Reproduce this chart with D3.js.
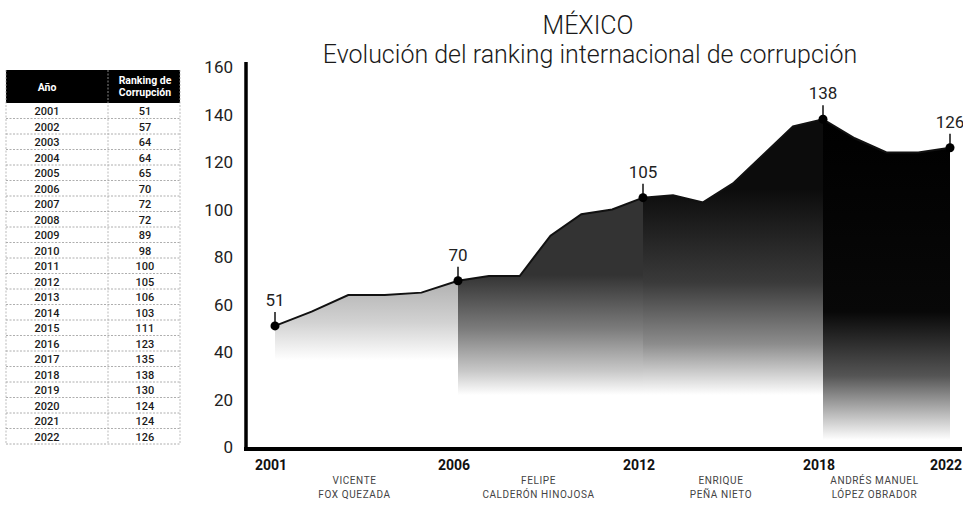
<!DOCTYPE html>
<html>
<head>
<meta charset="utf-8">
<script src="https://cdn.jsdelivr.net/npm/d3@7"></script>
<style>
  body { margin: 0; background: #fff; }
  svg { display: block; font-family: Roboto, "Noto Sans", sans-serif; }
</style>
</head>
<body>
<svg id="chart"></svg>
<script>
// data from the table
const years = [2001, 2002, 2003, 2004, 2005, 2006, 2007, 2008, 2009, 2010, 2011,
  2012, 2013, 2014, 2015, 2016, 2017, 2018, 2019, 2020, 2021, 2022];
const ranking = [51, 57, 64, 64, 65, 70, 72, 72, 89, 98, 100,
  105, 106, 103, 111, 123, 135, 138, 130, 124, 124, 126];
const tickYears = [2001, 2006, 2012, 2018, 2022];
const yTicks = [0, 20, 40, 60, 80, 100, 120, 140, 160];
const presidents = [
  ["VICENTE", "FOX QUEZADA"],
  ["FELIPE", "CALDERÓN HINOJOSA"],
  ["ENRIQUE", "PEÑA NIETO"],
  ["ANDRÉS MANUEL", "LÓPEZ OBRADOR"]
];
const terms = [[2001, 2006], [2006, 2012], [2012, 2018], [2018, 2022]];

const width = 963, height = 508;
const svg = d3.select("#chart").attr("width", width).attr("height", height);

const data = years.map((y, i) => ({ year: y, value: ranking[i] }));

// x is not even in the original, so map each term boundary
const x = d3.scaleLinear().domain(tickYears).range([275, 458, 643, 823, 950]);
const y = d3.scaleLinear().domain([0, 160]).range([447, 67]);

// titles
svg.append("text").attr("x", 588).attr("y", 34).attr("text-anchor", "middle")
  .attr("font-size", 25).attr("font-weight", 300).attr("fill", "#1a1a1a").text("MÉXICO");
svg.append("text").attr("x", 590).attr("y", 63).attr("text-anchor", "middle")
  .attr("font-size", 25).attr("font-weight", 300).attr("fill", "#1a1a1a")
  .text("Evolución del ranking internacional de corrupción");

// gradients, one per term (opaque, fading to white)
const defs = svg.append("defs");
const shades = [
  { top: 285, bot: 360, stops: [[0, "#b4b4b4"], [0.5, "#d2d2d2"], [1, "#fff"]] },
  { top: 275, bot: 395, stops: [[0, "#333"], [0.45, "#7c7c7c"], [0.8, "#c8c8c8"], [1, "#fff"]] },
  { top: 190, bot: 395, stops: [[0, "#0c0c0c"], [0.45, "#3a3a3a"], [0.75, "#8c8c8c"], [1, "#fff"]] },
  { top: 120, bot: 440, stops: [[0, "#000"], [0.6, "#080808"], [0.8, "#555"], [1, "#fff"]] }
];
shades.forEach((s, i) => {
  const g = defs.append("linearGradient").attr("id", "grad" + i)
    .attr("gradientUnits", "userSpaceOnUse")
    .attr("x1", 0).attr("x2", 0).attr("y1", s.top).attr("y2", s.bot);
  s.stops.forEach(st => g.append("stop").attr("offset", st[0]).attr("stop-color", st[1]));
  defs.append("clipPath").attr("id", "clip" + i)
    .append("rect")
    .attr("x", x(terms[i][0])).attr("y", 0)
    .attr("width", x(terms[i][1]) - x(terms[i][0]) + 1)
    .attr("height", height);
});

const area = d3.area().x(d => x(d.year)).y0(y(0)).y1(d => y(d.value));
terms.forEach((t, i) => {
  svg.append("path").datum(data)
    .attr("clip-path", `url(#clip${i})`)
    .attr("fill", `url(#grad${i})`)
    .attr("d", area);
});

// line
svg.append("path").datum(data)
  .attr("fill", "none").attr("stroke", "#111").attr("stroke-width", 2)
  .attr("d", d3.line().x(d => x(d.year)).y(d => y(d.value)));

// highlighted points
const hl = data.filter(d => tickYears.includes(d.year));
const pts = svg.append("g").selectAll("g").data(hl).join("g")
  .attr("transform", d => `translate(${x(d.year)},${y(d.value)})`);
pts.append("line").attr("y1", 0).attr("y2", -14).attr("stroke", "#111").attr("stroke-width", 1.5);
pts.append("circle").attr("r", 4.5).attr("fill", "#000");
pts.append("text").attr("y", -20).attr("text-anchor", "middle")
  .attr("font-size", 17).attr("fill", "#222").text(d => d.value);

// y axis
svg.append("line").attr("x1", 246).attr("x2", 246).attr("y1", 62).attr("y2", 450)
  .attr("stroke", "#000").attr("stroke-width", 3.5);
svg.append("g").selectAll("text").data(yTicks).join("text")
  .attr("x", 233).attr("y", d => y(d) + 6).attr("text-anchor", "end")
  .attr("font-size", 17).attr("fill", "#222").text(d => d);

// x axis
svg.append("line").attr("x1", 244).attr("x2", 962).attr("y1", 449).attr("y2", 449)
  .attr("stroke", "#000").attr("stroke-width", 4);
svg.append("g").selectAll("text").data(tickYears).join("text")
  .attr("x", d => x(d) - 4).attr("y", 470).attr("text-anchor", "middle")
  .attr("font-size", 14).attr("font-weight", "bold").attr("fill", "#111").text(d => d);

const pres = svg.append("g").selectAll("text").data(presidents).join("text")
  .attr("x", (d, i) => x((terms[i][0] + terms[i][1]) / 2) - 12)
  .attr("text-anchor", "middle").attr("font-size", 10).attr("letter-spacing", 0.6)
  .attr("fill", "#444");
pres.append("tspan").attr("y", 484).text(d => d[0]);
pres.append("tspan").attr("y", 498)
  .attr("x", (d, i) => x((terms[i][0] + terms[i][1]) / 2) - 12).text(d => d[1]);

// table on the left
const tx = 6, tw = 174, colX = 108, headTop = 70, headH = 33, rowH = 15.5;
const table = svg.append("g").attr("font-size", 11);
table.append("rect").attr("x", tx).attr("y", headTop).attr("width", tw).attr("height", headH).attr("fill", "#000");
table.append("text").attr("x", 47).attr("y", headTop + 21).attr("text-anchor", "middle")
  .attr("fill", "#fff").attr("font-weight", "bold").attr("font-size", 10.5).text("Año");
const hdr = table.append("text").attr("text-anchor", "middle").attr("fill", "#fff")
  .attr("font-weight", "bold").attr("font-size", 10.5);
hdr.append("tspan").attr("x", 145).attr("y", headTop + 14).text("Ranking de");
hdr.append("tspan").attr("x", 145).attr("y", headTop + 26).text("Corrupción");

const rows = table.selectAll("g.row").data(data).join("g")
  .attr("transform", (d, i) => `translate(0,${headTop + headH + i * rowH})`);
rows.append("line").attr("x1", tx).attr("x2", tx + tw).attr("y1", rowH).attr("y2", rowH)
  .attr("stroke", "#999").attr("stroke-width", 0.8).attr("stroke-dasharray", "2,1.5");
rows.append("text").attr("x", 47).attr("y", rowH - 3.5).attr("text-anchor", "middle")
  .attr("fill", "#1a1a1a").attr("font-weight", 500).text(d => d.year);
rows.append("text").attr("x", 145).attr("y", rowH - 3.5).attr("text-anchor", "middle")
  .attr("fill", "#1a1a1a").attr("font-weight", 500).text(d => d.value);
const tBottom = headTop + headH + data.length * rowH;
[tx, colX, tx + tw].forEach(vx => {
  table.append("line").attr("x1", vx).attr("x2", vx).attr("y1", headTop).attr("y2", tBottom)
    .attr("stroke", "#aaa").attr("stroke-width", 0.8).attr("stroke-dasharray", "2,1.5");
});
</script>
</body>
</html>
